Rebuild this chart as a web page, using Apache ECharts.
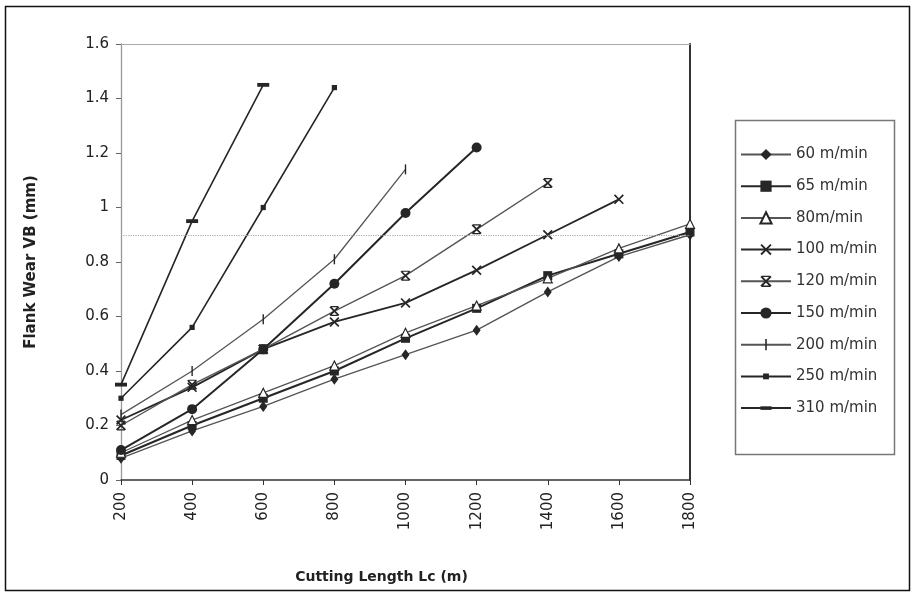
<!DOCTYPE html>
<html><head><meta charset="utf-8">
<script src="https://cdn.jsdelivr.net/npm/echarts@6/dist/echarts.min.js"></script>
<style>html,body{margin:0;padding:0;background:#fff}#c{width:916px;height:592px}</style>
</head><body><div id="c"></div>
<script>
// Cutting length (m) — x values
const cuttingLength = [200, 400, 600, 800, 1000, 1200, 1400, 1600, 1800];
const seriesNames = ['60 m/min', '65 m/min', '80m/min', '100 m/min', '120 m/min', '150 m/min', '200 m/min', '250 m/min', '310 m/min'];
// Flank wear VB (mm)
const wear60  = [0.08, 0.18, 0.27, 0.37, 0.46, 0.55, 0.69, 0.82, 0.90];
const wear65  = [0.09, 0.20, 0.30, 0.40, 0.52, 0.63, 0.75, 0.83, 0.91];
const wear80  = [0.10, 0.22, 0.32, 0.42, 0.54, 0.64, 0.74, 0.85, 0.94];
const wear100 = [0.22, 0.34, 0.48, 0.58, 0.65, 0.77, 0.90, 1.03];
const wear120 = [0.20, 0.35, 0.48, 0.62, 0.75, 0.92, 1.09];
const wear150 = [0.11, 0.26, 0.48, 0.72, 0.98, 1.22];
const wear200 = [0.24, 0.40, 0.59, 0.81, 1.14];
const wear250 = [0.30, 0.56, 1.00, 1.44];
const wear310 = [0.35, 0.95, 1.45];
const yTickLabels = ['0', '0.2', '0.4', '0.6', '0.8', '1', '1.2', '1.4', '1.6'];
const referenceWear = 0.9;

const FONT = 'DejaVu Sans';
const DARK = '#262626';
const GREY = '#555';

const SYM_X = 'path://M0,1.2L1.2,0L10,8.8L8.8,10Z M8.8,0L10,1.2L1.2,10L0,8.8Z';
const SYM_XBAR = 'path://M0,1.2L1.2,0L10,8.8L8.8,10Z M8.8,0L10,1.2L1.2,10L0,8.8Z M1,0H9V1.2H1Z M1,8.8H9V10H1Z';
const SYM_BAR = 'path://M0,0M10,10M4.3,0H5.7V10H4.3Z';
const SYM_DASH = 'path://M0,0M10,10M0,3.4H10V6.6H0Z';
const SYM_SMALLSQ = 'path://M0,0M10,10M2.4,2.4H7.6V7.6H2.4Z';

function pts(vals) { return vals.map((v, i) => [cuttingLength[i], v]); }

const styles = [
  { d: wear60,  sym: 'diamond', size: [8, 11], line: GREY, w: 1.4, fill: DARK },
  { d: wear65,  sym: 'rect', size: 9, line: DARK, w: 2, fill: DARK },
  { d: wear80,  sym: 'triangle', size: 9, line: GREY, w: 1.3, fill: '#fff', border: DARK },
  { d: wear100, sym: SYM_X, size: 10, line: DARK, w: 1.8, fill: DARK },
  { d: wear120, sym: SYM_XBAR, size: 10, line: GREY, w: 1.4, fill: DARK },
  { d: wear150, sym: 'circle', size: 10, line: DARK, w: 2, fill: DARK },
  { d: wear200, sym: SYM_BAR, size: 10, line: GREY, w: 1.3, fill: DARK },
  { d: wear250, sym: SYM_SMALLSQ, size: 10, line: DARK, w: 1.6, fill: DARK },
  { d: wear310, sym: SYM_DASH, size: 12, line: DARK, w: 1.6, fill: DARK }
];

const series = styles.map((s, i) => {
  const o = {
    name: seriesNames[i],
    type: 'line',
    data: pts(s.d),
    symbol: s.sym,
    symbolSize: s.size,
    showAllSymbol: true,
    lineStyle: { color: s.line, width: s.w },
    itemStyle: s.border ? { color: s.fill, borderColor: s.border, borderWidth: 1.2 } : { color: s.fill, borderWidth: 0 },
    emphasis: { disabled: true },
    z: 3
  };
  if (i === 0) {
    o.markLine = {
      silent: true, symbol: 'none', label: { show: false },
      lineStyle: { color: '#aaa', type: 'dotted', width: 1.2 },
      data: [{ yAxis: referenceWear }]
    };
  }
  return o;
});

const chart = echarts.init(document.getElementById('c'));
chart.setOption({
  animation: false,
  backgroundColor: '#fff',
  grid: { left: 121, right: 226, top: 44, bottom: 112 },
  xAxis: [{
    type: 'value', min: 200, max: 1800, interval: 200, position: 'bottom',
    name: 'Cutting Length Lc (m)', nameLocation: 'middle', nameGap: 90,
    nameTextStyle: { fontFamily: FONT, fontWeight: 'bold', fontSize: 14, color: '#222', padding: [0, 48, 0, 0] },
    axisLine: { show: true, onZero: false, lineStyle: { color: '#333', width: 1.5 } },
    axisTick: { show: true, length: 5, lineStyle: { color: '#333' } },
    axisLabel: { rotate: 90, fontFamily: FONT, fontSize: 15, color: '#222', margin: 12, formatter: (v) => String(v) },
    splitLine: { show: false }
  }, {
    type: 'value', min: 200, max: 1800, position: 'top',
    axisLine: { show: true, onZero: false, lineStyle: { color: '#aaa', width: 1.2 } },
    axisTick: { show: false }, axisLabel: { show: false }, splitLine: { show: false }
  }],
  yAxis: [{
    type: 'value', min: 0, max: 1.6, interval: 0.2,
    name: 'Flank Wear VB (mm)', nameLocation: 'middle', nameGap: 82,
    nameTextStyle: { fontFamily: FONT, fontWeight: 'bold', fontSize: 15, color: '#222' },
    axisLine: { show: true, onZero: false, lineStyle: { color: '#999', width: 1.3 } },
    axisTick: { show: true, length: 5, lineStyle: { color: '#666' } },
    axisLabel: { fontFamily: FONT, fontSize: 15, color: '#222', margin: 12,
      formatter: (v) => yTickLabels[Math.round(v / 0.2)] },
    splitLine: { show: false }
  }, {
    type: 'value', min: 0, max: 1.6, position: 'right',
    axisLine: { show: true, onZero: false, lineStyle: { color: '#333', width: 2 } },
    axisTick: { show: false }, axisLabel: { show: false }, splitLine: { show: false }
  }],
  legend: {
    orient: 'vertical', left: 740, top: 147, padding: 0,
    itemWidth: 50, itemHeight: 14, itemGap: 16.7,
    selectedMode: false,
    textStyle: { fontFamily: FONT, fontSize: 15, color: '#333' },
    data: seriesNames
  },
  graphic: [
    { type: 'rect', shape: { x: 5.5, y: 6.5, width: 904, height: 584 }, style: { fill: 'none', stroke: '#111', lineWidth: 1.5 }, silent: true },
    { type: 'rect', shape: { x: 735.5, y: 120.5, width: 159, height: 334 }, style: { fill: 'none', stroke: '#777', lineWidth: 1.5 }, silent: true }
  ],
  series: series
});
</script></body></html>
